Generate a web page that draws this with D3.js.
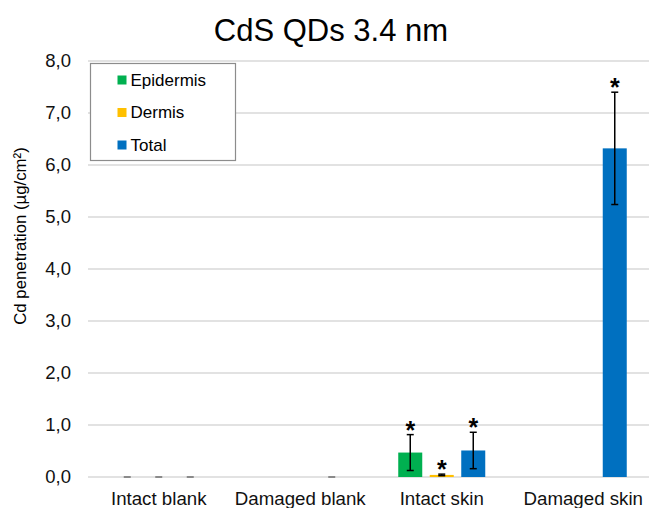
<!DOCTYPE html>
<html>
<head>
<meta charset="utf-8">
<script src="https://cdn.jsdelivr.net/npm/d3@7"></script>
<style>
  html, body { margin: 0; padding: 0; background: #fff; }
  svg { display: block; font-family: "Liberation Sans", Arial, sans-serif; }
</style>
</head>
<body>
<svg id="chart" width="649" height="508"></svg>
<script>
// Cd penetration per skin condition, split by layer
const categories = ["Intact blank", "Damaged blank", "Intact skin", "Damaged skin"];
const seriesNames = ["Epidermis", "Dermis", "Total"];
const epidermis    = [0, null, 0.47, null];
const dermis       = [0, null, 0.04, null];
const total        = [0, 0, 0.51, 6.32];
const epidermisErr = [0, null, 0.345, null];
const dermisErr    = [0, null, 0.015, null];
const totalErr     = [0, 0, 0.35, 1.08];
const epidermisSig = [false, false, true, false];
const dermisSig    = [false, false, true, false];
const totalSig     = [false, false, true, true];
const yTicks = [0, 1, 2, 3, 4, 5, 6, 7, 8];

const colors = { Epidermis: "#00B050", Dermis: "#FFC000", Total: "#0070C0" };
const seriesData = {
  Epidermis: { values: epidermis, err: epidermisErr, sig: epidermisSig },
  Dermis:    { values: dermis,    err: dermisErr,    sig: dermisSig },
  Total:     { values: total,     err: totalErr,     sig: totalSig }
};

const svg = d3.select("#chart");
const left = 88, bandStep = 141.5;
const x0 = d3.scaleBand().domain(categories).range([left, left + bandStep * categories.length]).padding(0);
const x1 = d3.scaleBand().domain(seriesNames).range([0, x0.bandwidth()]).paddingInner(0.238).paddingOuter(0.865);
const y = d3.scaleLinear().domain([0, 8]).range([477, 61]);

const locale = d3.formatLocale({ decimal: ",", thousands: ".", grouping: [3], currency: ["", ""] });
const fmt = locale.format(".1f");

// gridlines
svg.append("g").selectAll("line").data(yTicks).join("line")
  .attr("x1", left).attr("x2", x0.range()[1])
  .attr("y1", d => y(d)).attr("y2", d => y(d))
  .attr("stroke", "#D9D9D9").attr("stroke-width", 1.3);

// y tick labels
svg.append("g").selectAll("text").data(yTicks).join("text")
  .attr("x", 71).attr("y", d => y(d)).attr("dy", "0.35em")
  .attr("text-anchor", "end").attr("font-size", 18.5).attr("fill", "#111")
  .text(d => fmt(d));

// x category labels
svg.append("g").selectAll("text").data(categories).join("text")
  .attr("x", d => x0(d) + x0.bandwidth() / 2).attr("y", 505)
  .attr("text-anchor", "middle").attr("font-size", 18.7).attr("fill", "#111")
  .text(d => d);

// flatten to marks
const marks = [];
categories.forEach((c, i) => {
  seriesNames.forEach(s => {
    const sd = seriesData[s];
    if (sd.values[i] === null) return;
    marks.push({ cat: c, series: s, value: sd.values[i], err: sd.err[i], sig: sd.sig[i] });
  });
});

const g = svg.append("g");
// bars
g.selectAll("rect").data(marks.filter(d => d.value > 0)).join("rect")
  .attr("x", d => x0(d.cat) + x1(d.series))
  .attr("width", x1.bandwidth())
  .attr("y", d => y(d.value))
  .attr("height", d => y(0) - y(d.value))
  .attr("fill", d => colors[d.series]);

// error bars
const capHalf = 3.5;
const eb = g.append("g").selectAll("g").data(marks).join("g")
  .attr("stroke", d => d.err > 0 ? "#000" : "#8a8a8a")
  .attr("stroke-width", d => d.err > 0 ? 1.5 : 2);
eb.each(function (d) {
  const cx = x0(d.cat) + x1(d.series) + x1.bandwidth() / 2;
  const top = y(d.value + d.err), bot = y(d.value - d.err);
  const sel = d3.select(this);
  if (d.err > 0) {
    sel.append("line").attr("x1", cx).attr("x2", cx).attr("y1", top).attr("y2", bot);
  }
  sel.append("line").attr("x1", cx - capHalf).attr("x2", cx + capHalf).attr("y1", top).attr("y2", top);
  if (d.err > 0) {
    sel.append("line").attr("x1", cx - capHalf).attr("x2", cx + capHalf).attr("y1", bot).attr("y2", bot);
  }
});

// significance asterisks
g.append("g").selectAll("text").data(marks.filter(d => d.sig)).join("text")
  .attr("x", d => x0(d.cat) + x1(d.series) + x1.bandwidth() / 2)
  .attr("y", d => y(d.value + d.err) + 4)
  .attr("text-anchor", "middle").attr("font-size", 25).attr("font-weight", "bold").attr("fill", "#000")
  .text("*");

// title
svg.append("text").attr("x", 331).attr("y", 41).attr("text-anchor", "middle")
  .attr("font-size", 31).attr("fill", "#000").text("CdS QDs 3.4 nm");

// y axis title
svg.append("text").attr("transform", "translate(26,236) rotate(-90)")
  .attr("text-anchor", "middle").attr("font-size", 16.8).attr("fill", "#000")
  .text("Cd penetration (µg/cm²)");

// legend
const legend = svg.append("g");
legend.append("rect").attr("x", 90.5).attr("y", 63.5).attr("width", 145).attr("height", 97)
  .attr("fill", "#fff").attr("stroke", "#8c8c8c").attr("stroke-width", 1.2);
const li = legend.selectAll("g").data(seriesNames).join("g")
  .attr("transform", (d, i) => `translate(0,${80 + i * 32.5})`);
li.append("rect").attr("x", 117.5).attr("y", -4.5).attr("width", 9).attr("height", 9)
  .attr("fill", d => colors[d]);
li.append("text").attr("x", 130.5).attr("y", 0).attr("dy", "0.35em")
  .attr("font-size", 17).attr("fill", "#000").text(d => d);
</script>
</body>
</html>
